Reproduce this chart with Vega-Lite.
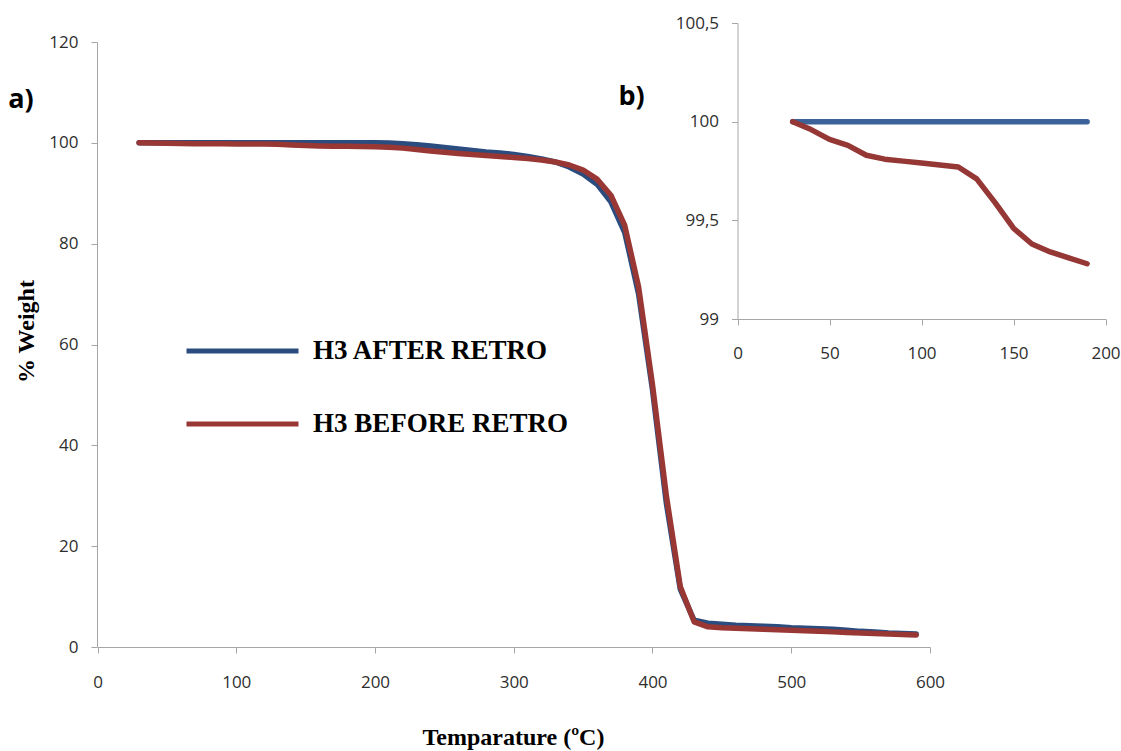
{
  "$schema": "https://vega.github.io/schema/vega-lite/v6.json",
  "width": 1010,
  "height": 625,
  "autosize": {"type": "none"},
  "padding": {"left": 97, "top": 22, "right": 14, "bottom": 104},
  "background": "white",
  "data": {"values": [
    {"T":30,"w":100,"s":"H3 AFTER RETRO"},{"T":40,"w":100,"s":"H3 AFTER RETRO"},{"T":50,"w":100,"s":"H3 AFTER RETRO"},{"T":60,"w":100,"s":"H3 AFTER RETRO"},{"T":70,"w":100,"s":"H3 AFTER RETRO"},{"T":80,"w":100,"s":"H3 AFTER RETRO"},{"T":90,"w":100,"s":"H3 AFTER RETRO"},{"T":100,"w":100,"s":"H3 AFTER RETRO"},{"T":110,"w":100,"s":"H3 AFTER RETRO"},{"T":120,"w":100,"s":"H3 AFTER RETRO"},{"T":130,"w":100,"s":"H3 AFTER RETRO"},{"T":140,"w":100,"s":"H3 AFTER RETRO"},{"T":150,"w":100,"s":"H3 AFTER RETRO"},{"T":160,"w":100,"s":"H3 AFTER RETRO"},{"T":170,"w":100,"s":"H3 AFTER RETRO"},{"T":180,"w":100,"s":"H3 AFTER RETRO"},{"T":190,"w":100,"s":"H3 AFTER RETRO"},{"T":200,"w":100,"s":"H3 AFTER RETRO"},{"T":210,"w":99.95,"s":"H3 AFTER RETRO"},{"T":220,"w":99.8,"s":"H3 AFTER RETRO"},{"T":230,"w":99.6,"s":"H3 AFTER RETRO"},{"T":240,"w":99.35,"s":"H3 AFTER RETRO"},{"T":250,"w":99.1,"s":"H3 AFTER RETRO"},{"T":260,"w":98.8,"s":"H3 AFTER RETRO"},{"T":270,"w":98.5,"s":"H3 AFTER RETRO"},{"T":280,"w":98.2,"s":"H3 AFTER RETRO"},{"T":290,"w":98.0,"s":"H3 AFTER RETRO"},{"T":300,"w":97.7,"s":"H3 AFTER RETRO"},{"T":310,"w":97.3,"s":"H3 AFTER RETRO"},{"T":320,"w":96.8,"s":"H3 AFTER RETRO"},{"T":330,"w":96.2,"s":"H3 AFTER RETRO"},{"T":340,"w":95.2,"s":"H3 AFTER RETRO"},{"T":350,"w":93.8,"s":"H3 AFTER RETRO"},{"T":360,"w":91.8,"s":"H3 AFTER RETRO"},{"T":370,"w":88.3,"s":"H3 AFTER RETRO"},{"T":380,"w":82.2,"s":"H3 AFTER RETRO"},{"T":390,"w":70,"s":"H3 AFTER RETRO"},{"T":400,"w":51,"s":"H3 AFTER RETRO"},{"T":410,"w":28.5,"s":"H3 AFTER RETRO"},{"T":420,"w":11.5,"s":"H3 AFTER RETRO"},{"T":430,"w":5.3,"s":"H3 AFTER RETRO"},{"T":440,"w":4.7,"s":"H3 AFTER RETRO"},{"T":450,"w":4.5,"s":"H3 AFTER RETRO"},{"T":460,"w":4.3,"s":"H3 AFTER RETRO"},{"T":470,"w":4.2,"s":"H3 AFTER RETRO"},{"T":480,"w":4.1,"s":"H3 AFTER RETRO"},{"T":490,"w":4.0,"s":"H3 AFTER RETRO"},{"T":500,"w":3.8,"s":"H3 AFTER RETRO"},{"T":510,"w":3.7,"s":"H3 AFTER RETRO"},{"T":520,"w":3.6,"s":"H3 AFTER RETRO"},{"T":530,"w":3.5,"s":"H3 AFTER RETRO"},{"T":540,"w":3.3,"s":"H3 AFTER RETRO"},{"T":550,"w":3.1,"s":"H3 AFTER RETRO"},{"T":560,"w":3.0,"s":"H3 AFTER RETRO"},{"T":570,"w":2.8,"s":"H3 AFTER RETRO"},{"T":580,"w":2.7,"s":"H3 AFTER RETRO"},{"T":590,"w":2.6,"s":"H3 AFTER RETRO"},
    {"T":30,"w":100,"s":"H3 BEFORE RETRO"},{"T":40,"w":99.96,"s":"H3 BEFORE RETRO"},{"T":50,"w":99.91,"s":"H3 BEFORE RETRO"},{"T":60,"w":99.88,"s":"H3 BEFORE RETRO"},{"T":70,"w":99.83,"s":"H3 BEFORE RETRO"},{"T":80,"w":99.81,"s":"H3 BEFORE RETRO"},{"T":90,"w":99.8,"s":"H3 BEFORE RETRO"},{"T":100,"w":99.79,"s":"H3 BEFORE RETRO"},{"T":110,"w":99.78,"s":"H3 BEFORE RETRO"},{"T":120,"w":99.77,"s":"H3 BEFORE RETRO"},{"T":130,"w":99.71,"s":"H3 BEFORE RETRO"},{"T":140,"w":99.59,"s":"H3 BEFORE RETRO"},{"T":150,"w":99.46,"s":"H3 BEFORE RETRO"},{"T":160,"w":99.38,"s":"H3 BEFORE RETRO"},{"T":170,"w":99.34,"s":"H3 BEFORE RETRO"},{"T":180,"w":99.31,"s":"H3 BEFORE RETRO"},{"T":190,"w":99.28,"s":"H3 BEFORE RETRO"},{"T":200,"w":99.2,"s":"H3 BEFORE RETRO"},{"T":210,"w":99.1,"s":"H3 BEFORE RETRO"},{"T":220,"w":98.95,"s":"H3 BEFORE RETRO"},{"T":230,"w":98.7,"s":"H3 BEFORE RETRO"},{"T":240,"w":98.4,"s":"H3 BEFORE RETRO"},{"T":250,"w":98.15,"s":"H3 BEFORE RETRO"},{"T":260,"w":97.9,"s":"H3 BEFORE RETRO"},{"T":270,"w":97.7,"s":"H3 BEFORE RETRO"},{"T":280,"w":97.5,"s":"H3 BEFORE RETRO"},{"T":290,"w":97.3,"s":"H3 BEFORE RETRO"},{"T":300,"w":97.1,"s":"H3 BEFORE RETRO"},{"T":310,"w":96.9,"s":"H3 BEFORE RETRO"},{"T":320,"w":96.6,"s":"H3 BEFORE RETRO"},{"T":330,"w":96.2,"s":"H3 BEFORE RETRO"},{"T":340,"w":95.6,"s":"H3 BEFORE RETRO"},{"T":350,"w":94.6,"s":"H3 BEFORE RETRO"},{"T":360,"w":92.8,"s":"H3 BEFORE RETRO"},{"T":370,"w":89.6,"s":"H3 BEFORE RETRO"},{"T":380,"w":83.6,"s":"H3 BEFORE RETRO"},{"T":390,"w":71.4,"s":"H3 BEFORE RETRO"},{"T":400,"w":52,"s":"H3 BEFORE RETRO"},{"T":410,"w":30,"s":"H3 BEFORE RETRO"},{"T":420,"w":12,"s":"H3 BEFORE RETRO"},{"T":430,"w":5,"s":"H3 BEFORE RETRO"},{"T":440,"w":4,"s":"H3 BEFORE RETRO"},{"T":450,"w":3.8,"s":"H3 BEFORE RETRO"},{"T":460,"w":3.7,"s":"H3 BEFORE RETRO"},{"T":470,"w":3.6,"s":"H3 BEFORE RETRO"},{"T":480,"w":3.5,"s":"H3 BEFORE RETRO"},{"T":490,"w":3.4,"s":"H3 BEFORE RETRO"},{"T":500,"w":3.3,"s":"H3 BEFORE RETRO"},{"T":510,"w":3.2,"s":"H3 BEFORE RETRO"},{"T":520,"w":3.1,"s":"H3 BEFORE RETRO"},{"T":530,"w":3.0,"s":"H3 BEFORE RETRO"},{"T":540,"w":2.9,"s":"H3 BEFORE RETRO"},{"T":550,"w":2.8,"s":"H3 BEFORE RETRO"},{"T":560,"w":2.7,"s":"H3 BEFORE RETRO"},{"T":570,"w":2.6,"s":"H3 BEFORE RETRO"},{"T":580,"w":2.5,"s":"H3 BEFORE RETRO"},{"T":590,"w":2.4,"s":"H3 BEFORE RETRO"}
  ]},
  "layer": [
    {
      "layer": [
        {
          "mark": {"type": "line", "strokeWidth": 5.5, "strokeCap": "round", "strokeJoin": "round"},
          "encoding": {
            "x": {"field": "T", "type": "quantitative",
              "scale": {"domain": [0, 600], "range": [0.5, 833], "nice": false, "zero": false},
              "axis": {"orient": "bottom", "values": [0,100,200,300,400,500,600], "labelPadding": 21, "labelFlush": false, "labelOverlap": false,
                "title": "Temparature (ºC)", "titleX": 416, "titleY": 97, "titleAlign": "center", "titleBaseline": "alphabetic"}},
            "y": {"field": "w", "type": "quantitative",
              "scale": {"domain": [0, 120], "range": [625, 20], "nice": false, "zero": false},
              "axis": {"orient": "left", "values": [0,20,40,60,80,100,120], "labelPadding": 13, "labelOverlap": false,
                "title": "% Weight", "titleAngle": 270, "titleX": -64, "titleY": 309, "titleAlign": "center", "titleBaseline": "alphabetic"}},
            "color": {"field": "s", "type": "nominal",
              "scale": {"domain": ["H3 AFTER RETRO", "H3 BEFORE RETRO"], "range": ["#2B4C7E", "#993735"]},
              "legend": {"title": null, "orient": "none", "legendX": 87, "legendY": 314, "padding": 0,
                "symbolType": "stroke", "symbolSize": 12544, "symbolStrokeWidth": 5, "clipHeight": 30, "rowPadding": 43,
                "labelOffset": 12, "labelFont": "Liberation Serif", "labelFontSize": 27, "labelFontWeight": "bold", "labelColor": "#000000", "labelLimit": 500,
                "encode": {"symbols": {"update": {"stroke": {"signal": "datum.value === 'H3 BEFORE RETRO' ? '#632523' : '#3A6195'"}}}}}}
          }
        },
        {
          "data": {"values": [{"label": "a)"}]},
          "mark": {"type": "text", "font": "Open Sans", "fontSize": 27, "fontWeight": "bold", "align": "center", "baseline": "middle", "color": "#000000"},
          "encoding": {
            "x": {"datum": -55.1, "type": "quantitative"},
            "y": {"datum": 108.5, "type": "quantitative"},
            "text": {"field": "label"}
          }
        },
        {
          "data": {"values": [{"label": "b)"}]},
          "mark": {"type": "text", "font": "Open Sans", "fontSize": 27, "fontWeight": "bold", "align": "center", "baseline": "middle", "color": "#000000"},
          "encoding": {
            "x": {"datum": 384.9, "type": "quantitative"},
            "y": {"datum": 109.1, "type": "quantitative"},
            "text": {"field": "label"}
          }
        }
      ]
    },
    {
      "transform": [{"filter": "datum.T <= 190"}],
      "mark": {"type": "line", "strokeWidth": 5.5, "strokeCap": "round", "strokeJoin": "round"},
      "encoding": {
        "x": {"field": "T", "type": "quantitative",
          "scale": {"domain": [0, 200], "range": [640.5, 1008.5], "nice": false, "zero": false},
          "axis": {"orient": "bottom", "offset": -328, "values": [0,50,100,150,200], "labelPadding": 20, "labelFlush": false, "labelOverlap": false, "title": null}},
        "y": {"field": "w", "type": "quantitative",
          "scale": {"domain": [99, 100.5], "range": [297, 1], "nice": false, "zero": false},
          "axis": {"orient": "left", "offset": -640.5, "values": [99, 99.5, 100, 100.5], "labelPadding": 13, "labelOverlap": false,
            "labelExpr": "replace(format(datum.value, '.1~f'), '.', ',')", "title": null}},
        "color": {"field": "s", "type": "nominal",
          "scale": {"domain": ["H3 AFTER RETRO", "H3 BEFORE RETRO"], "range": ["#3C6399", "#953735"]},
          "legend": null}
      }
    }
  ],
  "resolve": {
    "scale": {"x": "independent", "y": "independent", "color": "independent"},
    "axis": {"x": "independent", "y": "independent"}
  },
  "config": {
    "view": {"stroke": null},
    "axis": {
      "grid": false,
      "domainColor": "#A6A6A6",
      "tickColor": "#A6A6A6",
      "tickSize": 6,
      "labelFont": "Open Sans",
      "labelFontSize": 17,
      "labelColor": "#2E2E2E",
      "titleFont": "Liberation Serif",
      "titleFontSize": 24,
      "titleFontWeight": "bold",
      "titleColor": "#000000"
    }
  }
}
